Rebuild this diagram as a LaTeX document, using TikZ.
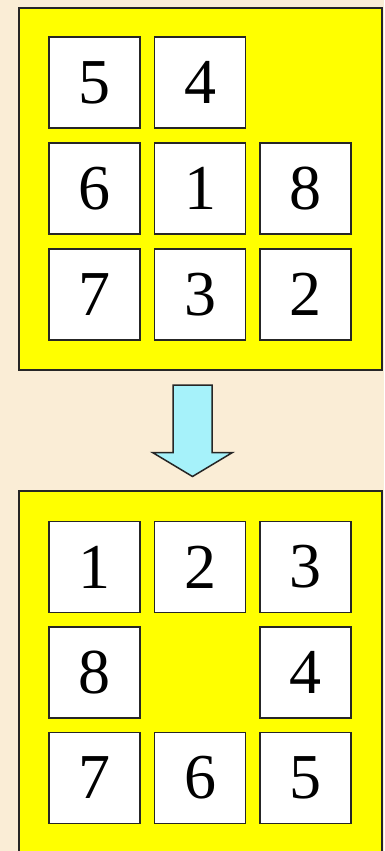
\documentclass[tikz,border=0pt]{standalone}
\usepackage{fontspec}
\setmainfont{Liberation Serif}
\usetikzlibrary{positioning}
\definecolor{sfondo}{RGB}{250,237,214}
\definecolor{giallo}{RGB}{255,255,0}
\definecolor{celeste}{RGB}{166,242,250}

\begin{document}
\begin{tikzpicture}[
  x=1pt, y=-1pt,
  font=\fontsize{64}{64}\selectfont,
  tavola/.style={draw=black!85, fill=giallo, line width=2pt,
                 minimum width=362.5pt, minimum height=362.5pt, inner sep=0pt},
  tessera/.style={draw=black!85, fill=white, line width=1.5pt,
                  minimum size=91pt, inner sep=0pt},
  freccia/.style={draw=black!85, fill=celeste, line width=1.5pt, line join=miter}
]

% sfondo
\fill[sfondo] (0,0) rectangle (384,851);
\useasboundingbox (0,0) rectangle (384,851);
\begin{scope}
\clip (0,0) rectangle (384,851);

% stato iniziale
\node[tavola] (inizio) at (200.25,188.8) {};
\node[tessera] (a5) at (94.5,82.5)  {5};
\node[tessera] (a4) at (200,82.5)   {4};
\node[tessera] (a6) at (94.5,188.5) {6};
\node[tessera] (a1) at (200,188.5)  {1};
\node[tessera] (a8) at (305.5,188.5) {8};
\node[tessera] (a7) at (94.5,294.5) {7};
\node[tessera] (a3) at (200,294.5)  {3};
\node[tessera] (a2) at (305.5,294.5) {2};

% stato finale
\node[tavola] (fine) at (200.25,672.3) {};
\node[tessera] (b1) at (94.5,567)   {1};
\node[tessera] (b2) at (200,567)    {2};
\node[tessera] (b3) at (305.5,567)  {3};
\node[tessera] (b8) at (94.5,672.3) {8};
\node[tessera] (b4) at (305.5,672.3) {4};
\node[tessera] (b7) at (94.5,777.8) {7};
\node[tessera] (b6) at (200,777.8)  {6};
\node[tessera] (b5) at (305.5,777.8) {5};
\end{scope}

% freccia
\draw[freccia] (173,385) -- (212,385) -- (212,452.5) -- (232.5,452.5)
  -- (192.5,476.5) -- (152.5,452.5) -- (173,452.5) -- cycle;

\end{tikzpicture}
\end{document}
